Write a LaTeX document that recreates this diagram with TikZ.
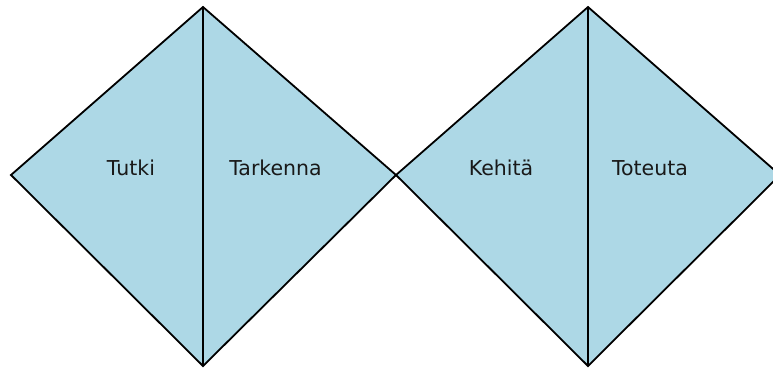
\documentclass[tikz,border=0pt]{standalone}
\usepackage{fontspec}
\setmainfont{DejaVu Sans}
\definecolor{dfill}{RGB}{173,216,230}
\tikzset{
  diam/.style={fill=dfill, draw=black, line width=1.8pt, line join=miter},
  divider/.style={draw=black, line width=1.8pt},
  lbl/.style={font=\fontsize{20.5}{23}\selectfont, text=black!90, anchor=base, inner sep=0pt}
}
\begin{document}
\begin{tikzpicture}[x=1pt,y=-1pt]
\useasboundingbox (0,0) rectangle (773,367);
\clip (0,0) rectangle (773,367);
% left diamond
\coordinate (L1) at (11,175);
\coordinate (T1) at (203,7);
\coordinate (M) at (396,175);
\coordinate (B1) at (203,366);
% right diamond
\coordinate (T2) at (588,7);
\coordinate (R2) at (780,175);
\coordinate (B2) at (588,366);
\path[diam] (L1) -- (T1) -- (M) -- (B1) -- cycle;
\path[diam] (M) -- (T2) -- (R2) -- (B2) -- cycle;
\draw[divider] (T1) -- (B1);
\draw[divider] (T2) -- (B2);
\node[lbl] (tutki) at (131,175) {Tutki};
\node[lbl] (tarkenna) at (275.5,175) {Tarkenna};
\node[lbl] (kehita) at (501,175) {Kehitä};
\node[lbl] (toteuta) at (650,175) {Toteuta};
\end{tikzpicture}
\end{document}
